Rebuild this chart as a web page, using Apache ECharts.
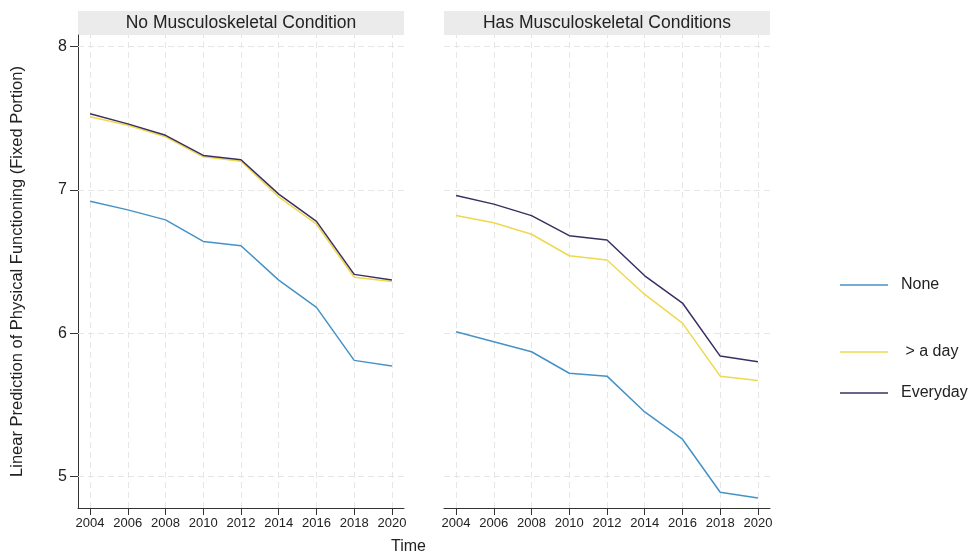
<!DOCTYPE html>
<html>
<head>
<meta charset="utf-8">
<script src="https://cdn.jsdelivr.net/npm/echarts@6/dist/echarts.min.js"></script>
<style>
  html, body { margin: 0; padding: 0; background: #fff; }
  #chart { width: 970px; height: 553px; }
</style>
</head>
<body>
<div id="chart"></div>
<script>
// Survey waves
var years = [2004, 2006, 2008, 2010, 2012, 2014, 2016, 2018, 2020];
var yTicks = [5, 6, 7, 8];
var panelTitles = ['No Musculoskeletal Condition', 'Has Musculoskeletal Conditions'];
var seriesNames = ['None', ' > a day', 'Everyday'];

// Predicted physical functioning, no musculoskeletal condition
var noneNo     = [6.92, 6.86, 6.79, 6.64, 6.61, 6.37, 6.18, 5.81, 5.77];
var aDayNo     = [7.51, 7.45, 7.37, 7.23, 7.20, 6.95, 6.76, 6.39, 6.36];
var everydayNo = [7.53, 7.46, 7.38, 7.24, 7.21, 6.97, 6.78, 6.41, 6.37];

// Predicted physical functioning, has musculoskeletal conditions
var noneHas     = [6.01, 5.94, 5.87, 5.72, 5.70, 5.45, 5.26, 4.89, 4.85];
var aDayHas     = [6.82, 6.77, 6.69, 6.54, 6.51, 6.27, 6.07, 5.70, 5.67];
var everydayHas = [6.96, 6.90, 6.82, 6.68, 6.65, 6.40, 6.21, 5.84, 5.80];

var colors = ['#4592c6', '#eed94e', '#3b2f60'];
var FONT = '"Liberation Sans", Arial, sans-serif';

function pairs(vals) {
  return years.map(function (y, i) { return [y, vals[i]]; });
}

var grids = [
  { left: 78, top: 35, width: 326, height: 473 },
  { left: 444, top: 35, width: 326, height: 473 }
];

function xAxisFor(idx) {
  return {
    type: 'value', gridIndex: idx, min: 2003.36, max: 2020.64,
    axisLine: { show: true, onZero: false, lineStyle: { color: '#333', width: 1 } },
    axisTick: { show: true, length: 7, customValues: years, lineStyle: { color: '#333' } },
    axisLabel: {
      customValues: years, color: '#222', fontSize: 13, fontFamily: FONT, margin: 9,
      formatter: function (v) { return String(v); }
    },
    splitLine: { show: false }
  };
}

function yAxisFor(idx) {
  var shown = idx === 0;
  return {
    type: 'value', gridIndex: idx, min: 4.78, max: 8.08,
    name: shown ? 'Linear Prediction of Physical Functioning (Fixed Portion)' : '',
    nameLocation: 'middle', nameGap: 52, nameRotate: 90,
    nameTextStyle: { fontSize: 16.5, color: '#222', fontFamily: FONT },
    axisLine: { show: shown, lineStyle: { color: '#333', width: 1 } },
    axisTick: { show: shown, length: 8, customValues: yTicks, lineStyle: { color: '#333' } },
    axisLabel: { show: shown, customValues: yTicks, color: '#222', fontSize: 16, fontFamily: FONT, margin: 11 },
    splitLine: { show: false }
  };
}

// Dashed reference grid drawn through each panel's own scales
function gridSeries(idx) {
  var lines = yTicks.map(function (v) { return { yAxis: v }; })
    .concat(years.map(function (v) { return { xAxis: v }; }));
  return {
    type: 'line', xAxisIndex: idx, yAxisIndex: idx, data: [], silent: true, z: 1,
    markLine: {
      silent: true, symbol: 'none', animation: false, z: 1,
      label: { show: false },
      lineStyle: { color: '#e6e6e6', type: [6, 4], width: 1 },
      data: lines
    }
  };
}

function lineSeries(name, vals, idx, color) {
  return {
    name: name, type: 'line', xAxisIndex: idx, yAxisIndex: idx,
    data: pairs(vals), symbol: 'none', z: 10,
    lineStyle: { color: color, width: 1.5 }, itemStyle: { color: color }
  };
}

function legendFor(i, top) {
  return {
    data: [{ name: seriesNames[i], icon: 'rect', itemStyle: { color: colors[i] } }],
    left: 835, top: top, orient: 'vertical',
    itemWidth: 48, itemHeight: 1.6, itemGap: 0,
    textStyle: { fontSize: 16, color: '#222', fontFamily: FONT, padding: [0, 0, 0, 8] },
    selectedMode: false
  };
}

var option = {
  animation: false,
  textStyle: { fontFamily: FONT },
  title: { text: 'Time', left: 391, top: 539, padding: 0, textStyle: { fontSize: 16, fontWeight: 'normal', color: '#222', fontFamily: FONT } },
  legend: [legendFor(0, 272), legendFor(1, 339), legendFor(2, 380)],
  graphic: [
    { type: 'rect', left: 78, top: 11, shape: { width: 326, height: 24 }, style: { fill: '#ebebeb' }, z: 0 },
    { type: 'text', x: 241, y: 23, style: { text: panelTitles[0], fill: '#222', font: '17.5px ' + FONT, textAlign: 'center', textVerticalAlign: 'middle' }, z: 1 },
    { type: 'rect', left: 444, top: 11, shape: { width: 326, height: 24 }, style: { fill: '#ebebeb' }, z: 0 },
    { type: 'text', x: 607, y: 23, style: { text: panelTitles[1], fill: '#222', font: '17.5px ' + FONT, textAlign: 'center', textVerticalAlign: 'middle' }, z: 1 }
  ],
  grid: grids,
  xAxis: [xAxisFor(0), xAxisFor(1)],
  yAxis: [yAxisFor(0), yAxisFor(1)],
  series: [
    gridSeries(0), gridSeries(1),
    lineSeries(seriesNames[0], noneNo, 0, colors[0]),
    lineSeries(seriesNames[1], aDayNo, 0, colors[1]),
    lineSeries(seriesNames[2], everydayNo, 0, colors[2]),
    lineSeries(seriesNames[0], noneHas, 1, colors[0]),
    lineSeries(seriesNames[1], aDayHas, 1, colors[1]),
    lineSeries(seriesNames[2], everydayHas, 1, colors[2])
  ]
};

var chart = echarts.init(document.getElementById('chart'), null, { renderer: 'canvas' });
chart.setOption(option);
</script>
</body>
</html>
